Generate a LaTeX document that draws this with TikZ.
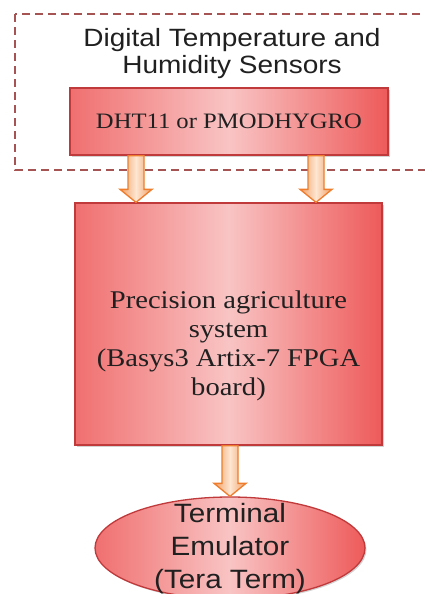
\documentclass[tikz,border=0pt]{standalone}
\usepackage{fontspec}
\setmainfont{Liberation Serif}
\setsansfont{Liberation Sans}
\usetikzlibrary{calc,shapes.geometric,shadows}

\definecolor{boxline}{HTML}{C0393B}
\definecolor{boxdark}{HTML}{EE5A5A}
\definecolor{boxlight}{HTML}{F9C4C4}
\definecolor{dashline}{HTML}{A65353}
\definecolor{arrline}{HTML}{EE7D2E}
\definecolor{arrlight}{HTML}{FDE6D2}
\definecolor{txt}{HTML}{202020}

% fat arrow from #1 down to #2
\newcommand{\fatarrow}[2]{%
  \draw[blockarrow] let \p1=(#1), \p2=(#2) in
    (\x1-8,\y1) -- (\x1-8,\y2+13) -- (\x1-16,\y2+13) -- (\x2,\y2)
    -- (\x1+16,\y2+13) -- (\x1+8,\y2+13) -- (\x1+8,\y1) -- cycle;}

\begin{document}
\begin{tikzpicture}[x=1pt,y=1pt]

\tikzset{
    redbox/.style={draw=boxline,line width=1.3pt,
        left color=boxdark!80!boxlight,right color=boxdark,middle color=boxlight,
        drop shadow={shadow xshift=1.5pt,shadow yshift=-1.5pt,opacity=0.35}},
    blockarrow/.style={draw=arrline,line width=1.3pt,
        left color=arrline!75,right color=arrline!75,middle color=arrlight},
    sensorframe/.style={draw=dashline,line width=1.4pt,dash pattern=on 8pt off 5pt},
    widetext/.style={text=txt,align=center,inner sep=0pt,xscale=1.12,transform shape}}

\useasboundingbox (0,0) rectangle (425,-594);
\clip (0,0) rectangle (425,-594);

% sensor group
\draw[sensorframe] (15,-14) rectangle (445,-170);
\node[widetext,font=\sffamily\fontsize{25}{27}\selectfont] (sensors) at (232,-54)
    {Digital Temperature and\\Humidity Sensors};

\node[redbox,minimum width=318,minimum height=67,text=txt,
      font=\fontsize{22}{24}\selectfont] (dht) at (229,-121.5)
    {\scalebox{1.12}[1]{DHT11 or PMODHYGRO}};

% board
\node[redbox,minimum width=307,minimum height=242] (fpga) at (228.5,-324) {};
\node[widetext,font=\fontsize{25.5}{29}\selectfont] (fpgatext)
    at ($(fpga.center)+(0,-21.5)$)
    {Precision agriculture\\system\\(Basys3 Artix-7 FPGA\\board)};

% terminal
\node[redbox,ellipse,minimum width=270,minimum height=102,inner sep=0pt] (term) at (230,-548) {};
\node[widetext,font=\sffamily\fontsize{26.5}{33}\selectfont] (termtext)
    at ($(term.center)+(0,-1)$) {Terminal\\Emulator\\(Tera Term)};

\coordinate (a1) at (dht.south -| 136,0);
\coordinate (b1) at (fpga.north -| 136,0);
\coordinate (a2) at (dht.south -| 316,0);
\coordinate (b2) at (fpga.north -| 316,0);
\coordinate (a3) at (fpga.south -| 230,0);

\fatarrow{a1}{b1}
\fatarrow{a2}{b2}
\fatarrow{a3}{term.north}

\end{tikzpicture}
\end{document}
